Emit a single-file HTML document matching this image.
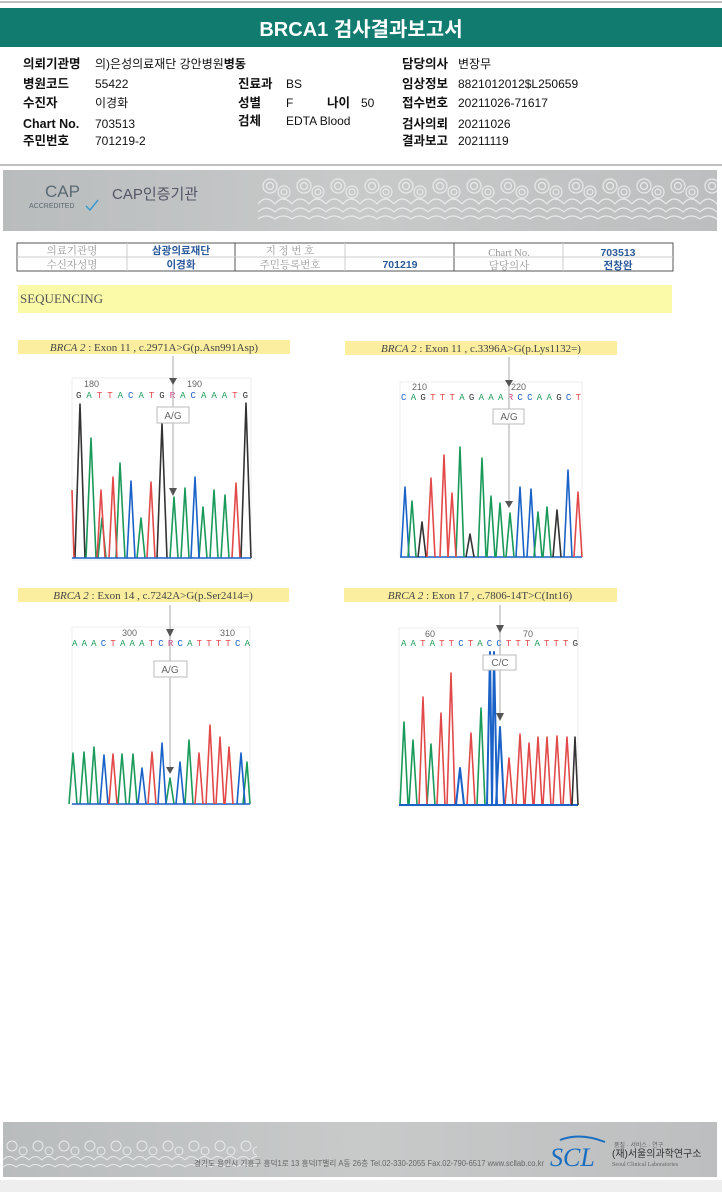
<!DOCTYPE html>
<html><head><meta charset="utf-8"><style>
body{margin:0;background:#fff;width:722px;height:1192px;overflow:hidden;position:relative;font-family:"Liberation Sans","Noto Sans CJK KR",sans-serif}
svg{position:absolute;left:0;top:0}
</style></head><body>
<svg width="722" height="1192" viewBox="0 0 722 1192" xmlns="http://www.w3.org/2000/svg" font-family="Liberation Sans, Noto Sans CJK KR, sans-serif">
<line x1="0" y1="2" x2="722" y2="2" stroke="#aaa" stroke-width="1.5"/>
<rect x="0" y="8" width="722" height="39" fill="#117b6f"/>
<text x="361" y="36" text-anchor="middle" fill="#fff" font-size="20" font-weight="bold">BRCA1 검사결과보고서</text>
<g font-size="12.5" fill="#111">
<g font-weight="bold">
<text x="23" y="68">의뢰기관명</text><text x="23" y="88">병원코드</text><text x="23" y="107">수진자</text><text x="23" y="128">Chart No.</text><text x="23" y="145">주민번호</text>
<text x="238" y="88">진료과</text><text x="238" y="107">성별</text><text x="327" y="107">나이</text><text x="238" y="125">검체</text>
<text x="402" y="68">담당의사</text><text x="402" y="88">임상정보</text><text x="402" y="107">접수번호</text><text x="402" y="128">검사의뢰</text><text x="402" y="145">결과보고</text>
</g>
<g font-size="12">
<text x="95" y="68">의)은성의료재단 강안병원<tspan font-weight="bold">병동</tspan></text><text x="95" y="88">55422</text><text x="95" y="107">이경화</text><text x="95" y="128">703513</text><text x="95" y="145">701219-2</text>
<text x="286" y="88">BS</text><text x="286" y="107">F</text><text x="361" y="107">50</text><text x="286" y="125">EDTA Blood</text>
<text x="458" y="68">변장무</text><text x="458" y="88">8821012012$L250659</text><text x="458" y="107">20211026-71617</text><text x="458" y="128">20211026</text><text x="458" y="145">20211119</text>
</g></g>
<line x1="0" y1="165" x2="722" y2="165" stroke="#aaa" stroke-width="1.5"/>
<defs>
<linearGradient id="gb" x1="0" x2="1"><stop offset="0" stop-color="#b9bcbd"/><stop offset="0.5" stop-color="#c8caca"/><stop offset="1" stop-color="#bcbebf"/></linearGradient>
<pattern id="wv" x="258" y="172" width="34" height="56" patternUnits="userSpaceOnUse">
<g fill="none" stroke="#e8eaea" stroke-width="1.2">
<circle cx="12" cy="14" r="7"/><circle cx="12" cy="14" r="3.5"/><circle cx="26" cy="20" r="6"/><circle cx="26" cy="20" r="3"/>
<path d="M0 32 q8-10 17 0 q8-10 17 0"/><path d="M0 40 q8-8 17 0 q8-8 17 0"/><path d="M0 47 q8-6 17 0 q8-6 17 0"/>
</g></pattern>
<pattern id="wv2" x="3" y="1124" width="26" height="50" patternUnits="userSpaceOnUse">
<g fill="none" stroke="#e8eaea" stroke-width="1">
<circle cx="9" cy="22" r="5"/><circle cx="20" cy="27" r="4"/>
<path d="M0 36 q6-7 13 0 q6-7 13 0"/><path d="M0 43 q6-5 13 0 q6-5 13 0"/>
</g></pattern>
</defs>
<rect x="3" y="170" width="714" height="61" fill="url(#gb)"/>
<rect x="258" y="172" width="459" height="56" fill="url(#wv)"/>
<text x="45" y="197" font-size="17" fill="#5a6a72">CAP</text>
<text x="29" y="208" font-size="7" fill="#5a6a72">ACCREDITED</text>
<path d="M86 206 l4 4 l8-10" stroke="#3a9ad0" stroke-width="1.5" fill="none"/>
<text x="112" y="199" font-size="15" fill="#556">CAP인증기관</text>
<g stroke="#555" fill="none" stroke-width="1">
<rect x="17" y="243" width="656" height="28"/>
<line x1="235" y1="243" x2="235" y2="271"/><line x1="454" y1="243" x2="454" y2="271"/>
<line x1="17" y1="257" x2="673" y2="257" stroke="#ccc"/>
<line x1="127" y1="243" x2="127" y2="271" stroke="#ccc"/><line x1="345" y1="243" x2="345" y2="271" stroke="#ccc"/><line x1="563" y1="243" x2="563" y2="271" stroke="#ccc"/>
</g>
<g font-size="10.5" fill="#999" font-family="Liberation Serif, Noto Serif CJK SC, serif" text-anchor="middle">
<text x="72" y="254">의료기관명</text><text x="72" y="268">수신자성명</text><text x="290" y="254">지 정 번 호</text><text x="290" y="268">주민등록번호</text><text x="509" y="256">Chart No.</text><text x="509" y="269">담당의사</text>
</g>
<g font-size="10.5" fill="#2b5a9a" font-weight="bold" text-anchor="middle">
<text x="181" y="254">삼광의료재단</text><text x="181" y="268">이경화</text><text x="400" y="268">701219</text><text x="618" y="256">703513</text><text x="618" y="269">전창완</text>
</g>
<rect x="18" y="285" width="654" height="28" fill="#fafaa8"/>
<text x="20" y="303" font-size="13" fill="#555" font-family="Liberation Serif, serif">SEQUENCING</text>
<g fill="#fbef9f">
<rect x="18" y="340" width="272" height="14"/><rect x="345" y="341" width="272" height="14"/>
<rect x="18" y="588" width="271" height="14"/><rect x="344" y="588" width="273" height="14"/>
</g>
<g font-size="11" fill="#444" font-family="Liberation Serif, serif" text-anchor="middle">
<text x="154" y="351"><tspan font-style="italic">BRCA 2</tspan> : Exon 11 , c.2971A&gt;G(p.Asn991Asp)</text>
<text x="481" y="352"><tspan font-style="italic">BRCA 2</tspan> : Exon 11 , c.3396A&gt;G(p.Lys1132=)</text>
<text x="153" y="599"><tspan font-style="italic">BRCA 2</tspan> : Exon 14 , c.7242A&gt;G(p.Ser2414=)</text>
<text x="480" y="599"><tspan font-style="italic">BRCA 2</tspan> : Exon 17 , c.7806-14T&gt;C(Int16)</text>
</g>
<g fill="none" stroke="#eee"><rect x="72" y="378" width="179" height="182"/><rect x="400" y="382" width="182" height="176"/><rect x="72" y="627" width="178" height="178"/><rect x="399" y="628" width="179" height="178"/></g>
<g font-size="9" fill="#666"><text x="84" y="387">180</text><text x="187" y="387">190</text><text x="412" y="390">210</text><text x="511" y="390">220</text><text x="122" y="636">300</text><text x="220" y="636">310</text><text x="425" y="637">60</text><text x="523" y="637">70</text></g>
<g font-size="9" font-family="Liberation Mono, monospace">
<text x="76" y="398" textLength="172"><tspan fill="#333">G</tspan><tspan fill="#1a9a5a"> A</tspan><tspan fill="#e24a4a"> T T</tspan><tspan fill="#1a9a5a"> A</tspan><tspan fill="#1a62c8"> C</tspan><tspan fill="#1a9a5a"> A</tspan><tspan fill="#e24a4a"> T</tspan><tspan fill="#333"> G</tspan><tspan fill="#d04080"> R</tspan><tspan fill="#1a9a5a"> A</tspan><tspan fill="#1a62c8"> C</tspan><tspan fill="#1a9a5a"> A A A</tspan><tspan fill="#e24a4a"> T</tspan><tspan fill="#333"> G</tspan></text>
<text x="401" y="400" textLength="180"><tspan fill="#1a62c8">C </tspan><tspan fill="#1a9a5a">A </tspan><tspan fill="#333">G</tspan><tspan fill="#e24a4a"> T T T</tspan><tspan fill="#1a9a5a"> A</tspan><tspan fill="#333"> G</tspan><tspan fill="#1a9a5a"> A A A</tspan><tspan fill="#d04080"> R</tspan><tspan fill="#1a62c8"> C C</tspan><tspan fill="#1a9a5a"> A A</tspan><tspan fill="#333"> G</tspan><tspan fill="#1a62c8"> C</tspan><tspan fill="#e24a4a"> T</tspan></text>
<text x="72" y="646" textLength="178"><tspan fill="#1a9a5a">A A A</tspan><tspan fill="#1a62c8"> C</tspan><tspan fill="#e24a4a"> T</tspan><tspan fill="#1a9a5a"> A A A</tspan><tspan fill="#e24a4a"> T</tspan><tspan fill="#1a62c8"> C </tspan><tspan fill="#d04080">R</tspan><tspan fill="#1a62c8"> C</tspan><tspan fill="#1a9a5a"> A</tspan><tspan fill="#e24a4a"> T T T T</tspan><tspan fill="#1a62c8"> C </tspan><tspan fill="#1a9a5a">A</tspan></text>
<text x="401" y="646" textLength="177"><tspan fill="#1a9a5a">A A</tspan><tspan fill="#e24a4a"> T</tspan><tspan fill="#1a9a5a"> A</tspan><tspan fill="#e24a4a"> T T</tspan><tspan fill="#1a62c8"> C</tspan><tspan fill="#e24a4a"> T</tspan><tspan fill="#1a9a5a"> A</tspan><tspan fill="#1a62c8"> C C</tspan><tspan fill="#e24a4a"> T T T</tspan><tspan fill="#1a9a5a"> A</tspan><tspan fill="#e24a4a"> T T T </tspan><tspan fill="#333">G</tspan></text>
</g>
<g fill="none" stroke-width="1.6" stroke-linejoin="round">
<g stroke="#333"><path d="M75 558 L80 404 L85 558"/><path d="M157 558 L162 423 L167 558"/><path d="M241 558 L246 403 L251 558"/></g>
<g stroke="#1a9a5a"><path d="M86 558 L91 438 L96 558"/><path d="M116 558 L120 463 L125 558"/><path d="M98 558 L102 518 L106 558"/><path d="M137 558 L141 518 L145 558"/><path d="M170 558 L174 497 L178 558"/><path d="M181 558 L185 488 L189 558"/><path d="M199 558 L203 507 L207 558"/><path d="M210 558 L214 490 L218 558"/><path d="M221 558 L225 495 L229 558"/></g>
<g stroke="#e24a4a"><path d="M97 558 L101 490 L105 558"/><path d="M109 558 L113 477 L117 558"/><path d="M147 558 L151 482 L155 558"/><path d="M232 558 L236 483 L240 558"/><path d="M72 490 L74 558"/></g>
<g stroke="#1a62c8"><path d="M127 558 L131 481 L135 558"/><path d="M191 558 L195 477 L199 558"/><path d="M72 558 H251"/></g>
<g stroke="#1a62c8"><path d="M401 557 L405 487 L409 557"/><path d="M516 557 L520 487 L524 557"/><path d="M527 557 L531 489 L535 557"/><path d="M564 557 L568 470 L572 557"/><path d="M400 557 H582"/></g>
<g stroke="#1a9a5a"><path d="M408 557 L412 501 L416 557"/><path d="M456 557 L460 447 L464 557"/><path d="M478 557 L482 458 L486 557"/><path d="M487 557 L491 496 L495 557"/><path d="M496 557 L500 503 L504 557"/><path d="M506 557 L510 513 L514 557"/><path d="M534 557 L538 512 L542 557"/><path d="M543 557 L547 507 L551 557"/></g>
<g stroke="#333"><path d="M418 557 L422 522 L426 557"/><path d="M466 557 L470 534 L474 557"/><path d="M553 557 L557 510 L561 557"/></g>
<g stroke="#e24a4a"><path d="M427 557 L431 478 L435 557"/><path d="M440 557 L444 455 L448 557"/><path d="M448 557 L452 493 L456 557"/><path d="M574 557 L578 492 L582 557"/></g>
<g stroke="#1a9a5a"><path d="M69 804 L73 753 L77 804"/><path d="M80 804 L84 752 L88 804"/><path d="M90 804 L94 747 L98 804"/><path d="M118 804 L122 754 L126 804"/><path d="M129 804 L133 754 L137 804"/><path d="M166 804 L170 778 L174 804"/><path d="M185 804 L189 740 L193 804"/><path d="M243 804 L247 762 L250 804"/></g>
<g stroke="#1a62c8"><path d="M100 804 L104 755 L108 804"/><path d="M138 804 L142 768 L146 804"/><path d="M158 804 L162 743 L166 804"/><path d="M176 804 L180 762 L184 804"/><path d="M237 804 L241 753 L245 804"/><path d="M72 804 H250"/></g>
<g stroke="#e24a4a"><path d="M109 804 L113 754 L117 804"/><path d="M148 804 L152 752 L156 804"/><path d="M195 804 L199 753 L203 804"/><path d="M206 804 L210 725 L214 804"/><path d="M216 804 L220 737 L224 804"/><path d="M225 804 L229 747 L233 804"/></g>
<g stroke="#1a9a5a"><path d="M400 805 L404 722 L408 805"/><path d="M409 805 L413 740 L417 805"/><path d="M427 805 L431 744 L435 805"/><path d="M477 805 L481 708 L485 805"/></g>
<g stroke="#e24a4a"><path d="M419 805 L423 697 L427 805"/><path d="M437 805 L441 713 L445 805"/><path d="M447 805 L451 673 L455 805"/><path d="M467 805 L471 733 L475 805"/><path d="M505 805 L509 758 L513 805"/><path d="M516 805 L520 734 L524 805"/><path d="M525 805 L529 743 L533 805"/><path d="M534 805 L538 737 L542 805"/><path d="M543 805 L547 737 L551 805"/><path d="M553 805 L557 736 L561 805"/><path d="M563 805 L567 737 L571 805"/></g>
<g stroke="#1a62c8" stroke-width="2"><path d="M456 805 L460 768 L464 805"/><path d="M487 805 L490 652 L492 805"/><path d="M492 805 L494 652 L497 805"/><path d="M496 805 L500 727 L504 805"/><path d="M399 805 H578"/></g>
<g stroke="#333"><path d="M572 805 L575 737 L578 805"/></g>
</g>
<g stroke="#aaa" stroke-width="1">
<line x1="173" y1="356" x2="173" y2="490"/><line x1="509" y1="357" x2="509" y2="503"/><line x1="170" y1="605" x2="170" y2="769"/><line x1="500" y1="605" x2="500" y2="715"/>
</g>
<g fill="#fff" stroke="#bbb"><rect x="157" y="407" width="32" height="16"/><rect x="493" y="409" width="31" height="15"/><rect x="154" y="661" width="33" height="16"/><rect x="483" y="655" width="33" height="15"/></g>
<g font-size="10" fill="#666" text-anchor="middle"><text x="173" y="419">A/G</text><text x="509" y="420">A/G</text><text x="170" y="673">A/G</text><text x="500" y="666">C/C</text></g>
<g fill="#555">
<path d="M169 378 h8 l-4 7z"/><path d="M169 488 h8 l-4 8z"/>
<path d="M505 380 h8 l-4 7z"/><path d="M505 501 h8 l-4 7z"/>
<path d="M166 629 h8 l-4 8z"/><path d="M166 767 h8 l-4 7z"/>
<path d="M496 625 h8 l-4 8z"/><path d="M496 713 h8 l-4 8z"/>
</g>
<rect x="3" y="1122" width="714" height="55" fill="url(#gb)"/>
<rect x="3" y="1124" width="254" height="50" fill="url(#wv2)"/>
<text x="194" y="1166" font-size="8" fill="#666" textLength="350" lengthAdjust="spacingAndGlyphs">경기도 용인시 기흥구 흥덕1로 13 흥덕IT밸리 A동 26층  Tel.02-330-2055  Fax.02-790-6517  www.scllab.co.kr</text>
<text x="550" y="1166" font-size="26" font-style="italic" fill="#1a6ec0" font-family="Liberation Serif, serif">SCL</text>
<path d="M560 1140 q20-8 45 2" stroke="#1a6ec0" stroke-width="2" fill="none"/>
<text x="614" y="1147" font-size="6" fill="#666">품질 · 서비스 · 연구</text>
<text x="612" y="1157" font-size="10" fill="#333">(재)서울의과학연구소</text>
<text x="612" y="1166" font-size="6" fill="#666" font-family="Liberation Serif, serif">Seoul Clinical Laboratories</text>
<rect x="0" y="1180" width="722" height="12" fill="#eeeeee"/>
</svg>
</body></html>
